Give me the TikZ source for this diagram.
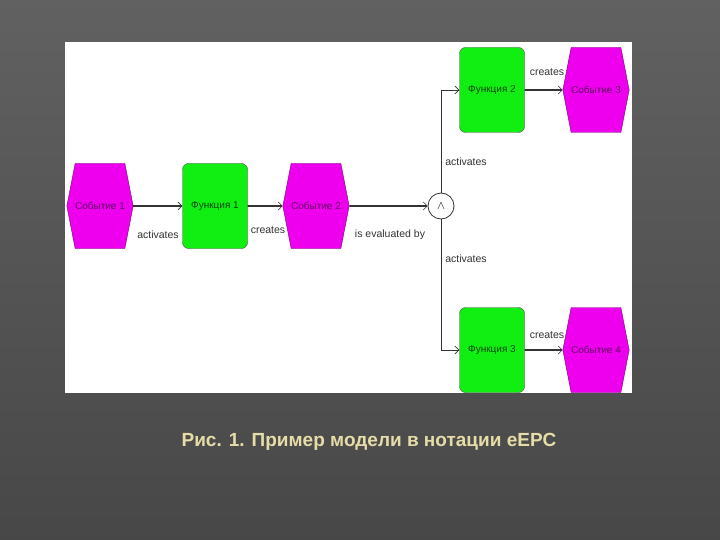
\documentclass[tikz,border=0pt]{standalone}
\usepackage{fontspec}
\setmainfont{Liberation Sans}
\usetikzlibrary{shapes.geometric,shapes.symbols,arrows.meta}
\definecolor{mag}{HTML}{EE00EE}
\definecolor{grn}{HTML}{11EE11}
\definecolor{capc}{HTML}{E6DCA8}
\begin{document}
\begin{tikzpicture}[x=1pt,y=-1pt,
  evbox/.style={signal,signal to=east and west,signal pointer angle=158,fill=mag,draw=black!50!mag,minimum width=54pt,minimum height=85pt,inner sep=0pt,font=\fontsize{10}{12}\selectfont,text=black!60!mag},
  fn/.style={fill=grn,draw=black!70,rounded corners=6pt,minimum width=65pt,minimum height=85pt,inner sep=0pt,font=\fontsize{10}{12}\selectfont,text=black!70!grn},
  lnk/.style={draw=black!80,line width=1.6pt,-{Straight Barb[length=4pt,width=8pt,line width=0.6pt]}},
  thin/.style={draw=black!80,line width=0.8pt,-{Straight Barb[length=4pt,width=8pt,line width=0.6pt]}},
  lab/.style={font=\fontsize{10.5}{12}\selectfont,text=black!80,inner sep=1pt}]
\shade[top color=black!62,bottom color=black!72] (0,0) rectangle (720,540);
\useasboundingbox (0,0) rectangle (720,540);
\fill[white] (65,42) rectangle (632,393);
\node[evbox] (e1) at (100,206) {Событие 1};
\node[fn] (f1) at (215,206) {Функция 1};
\node[evbox] (e2) at (316,206) {Событие 2};
\node[circle,draw=black!80,fill=white,minimum size=26pt,inner sep=0pt,line width=0.8pt,font=\large] (and) at (441,206) {$\wedge$};
\node[fn] (f2) at (492,90) {Функция 2};
\node[evbox] (e3) at (596,90) {Событие 3};
\node[fn] (f3) at (492,350) {Функция 3};
\node[evbox] (e4) at (596,350) {Событие 4};
\draw[lnk] (e1) -- (f1);
\draw[lnk] (f1) -- (e2);
\draw[lnk] (e2) -- (and);
\draw[lnk] (f2) -- (e3);
\draw[lnk] (f3) -- (e4);
\draw[thin] (and.north) |- (f2.west);
\draw[thin] (and.south) |- (f3.west);
\node[lab] (l1) at (158,235) {activates};
\node[lab] (l2) at (268,230) {creates};
\node[lab] (l3) at (390,235) {is evaluated by};
\node[lab] (l4) at (466,162) {activates};
\node[lab] (l5) at (466,259) {activates};
\node[lab] (l6) at (547,72) {creates};
\node[lab] (l7) at (547,335) {creates};
\node[font=\bfseries\fontsize{19}{21}\selectfont,text=capc] (cap) at (369,442) {Рис. 1. Пример модели в нотации eEPC};
\end{tikzpicture}
\end{document}
